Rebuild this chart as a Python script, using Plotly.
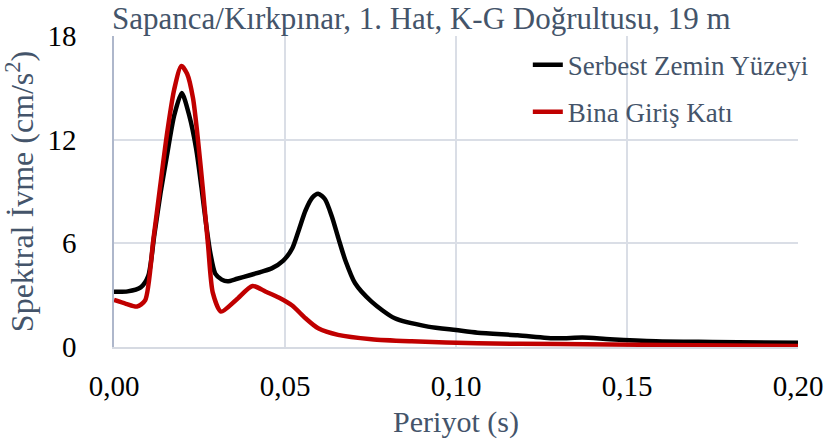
import plotly.graph_objects as go

# periyot (s) ve spektral ivme (cm/s2) - okunan degerler
t_serbest = [0.000, 0.004, 0.0078, 0.0100, 0.0118, 0.0136, 0.0155, 0.0176, 0.0198, 0.0220,
             0.0240, 0.0256, 0.0270, 0.0282, 0.0296, 0.0315, 0.0332, 0.0360, 0.0394, 0.0430,
             0.0461, 0.0495, 0.0521, 0.0540, 0.0560, 0.0580, 0.0597, 0.0617, 0.0637, 0.0656,
             0.0676, 0.0705, 0.0753, 0.0821, 0.0918, 0.1000, 0.1063, 0.1180, 0.1295, 0.1370,
             0.1450, 0.1585, 0.1750, 0.2000]
sa_serbest = [3.20, 3.22, 3.45, 4.10, 6.50, 8.90, 11.10, 13.40, 14.70, 13.40,
              11.50, 9.20, 7.00, 5.40, 4.25, 3.90, 3.80, 3.95, 4.14, 4.35,
              4.55, 5.00, 5.70, 6.75, 7.90, 8.65, 8.87, 8.55, 7.55, 6.30,
              5.04, 3.69, 2.63, 1.66, 1.18, 0.98, 0.83, 0.68, 0.50, 0.55,
              0.45, 0.33, 0.29, 0.24]

t_bina = [0.000, 0.0035, 0.0067, 0.0091, 0.0115, 0.0135, 0.0154, 0.0176, 0.0197, 0.0214,
          0.0231, 0.0246, 0.0260, 0.0275, 0.0289, 0.0313, 0.0357, 0.0405, 0.0444, 0.0483,
          0.0521, 0.0560, 0.0597, 0.0655, 0.0753, 0.0870, 0.1063, 0.1300, 0.1600, 0.2000]
sa_bina = [2.72, 2.50, 2.34, 2.70, 6.20, 9.30, 12.20, 14.90, 16.27, 15.80,
           14.40, 11.90, 9.10, 5.90, 3.13, 2.05, 2.72, 3.53, 3.20, 2.85,
           2.40, 1.66, 1.08, 0.70, 0.45, 0.33, 0.21, 0.17, 0.12, 0.06]

x_ticks = [0.0, 0.05, 0.10, 0.15, 0.20]
y_ticks = [0, 6, 12, 18]

yazi = "Liberation Serif"
gri_mavi = "#44546a"

fig = go.Figure()

fig.add_trace(
    go.Scatter(
        x = t_serbest,
        y = sa_serbest,
        mode = "lines",
        name = "Serbest Zemin Yüzeyi",
        legendgroup = "a",
        line = dict(color="#000000", width=4.5, shape="spline", smoothing=0.7)
    )
)

fig.add_trace(
    go.Scatter(
        x = t_bina,
        y = sa_bina,
        mode = "lines",
        name = "Bina Giriş Katı",
        legendgroup = "b",
        line = dict(color="#c00000", width=4.5, shape="spline", smoothing=0.7)
    )
)

fig.update_layout(
    width = 835,
    height = 448,
    margin = dict(l=114, r=32, t=36, b=101),
    paper_bgcolor = "white",
    plot_bgcolor = "white",
    separators = ",.",
    font = dict(family=yazi, color=gri_mavi),
    title = dict(
        text = "Sapanca/Kırkpınar, 1. Hat, K-G Doğrultusu, 19 m",
        font = dict(size=31, color=gri_mavi, family=yazi),
        xref = "container", x = 112/835, xanchor = "left",
        yref = "container", y = 1 - 18/448, yanchor = "middle"
    ),
    showlegend = True,
    legend = dict(
        x = 0.605, y = 0.985, xanchor = "left", yanchor = "top",
        bgcolor = "rgba(255,255,255,0)",
        font = dict(size=27, color=gri_mavi, family=yazi),
        traceorder = "grouped",
        tracegroupgap = 9
    )
)

fig.update_xaxes(
    range = [0, 0.2],
    tickvals = x_ticks,
    tickformat = ".2f",
    tickfont = dict(size=29, color="#000000", family=yazi),
    ticklabelstandoff = 12,
    showgrid = True,
    gridcolor = "#dadee6",
    gridwidth = 1.5,
    showline = True,
    linecolor = "#d6dae2",
    linewidth = 1.5,
    zeroline = False,
    title = dict(text="Periyot (s)", font=dict(size=30, color=gri_mavi, family=yazi), standoff=10)
)

fig.update_yaxes(
    range = [0, 18],
    tickvals = y_ticks,
    tickfont = dict(size=29, color="#000000", family=yazi),
    ticklabelstandoff = 30,
    showgrid = True,
    gridcolor = "#dadee6",
    gridwidth = 1.5,
    showline = True,
    linecolor = "#aeb7cb",
    linewidth = 1.5,
    zeroline = False,
    title = dict(text="Spektral İvme (cm/s<sup>2</sup>)", font=dict(size=32, color=gri_mavi, family=yazi), standoff=12)
)

fig.write_html("out.html", config={"displayModeBar": False},
               post_script="document.body.style.margin='0';")
